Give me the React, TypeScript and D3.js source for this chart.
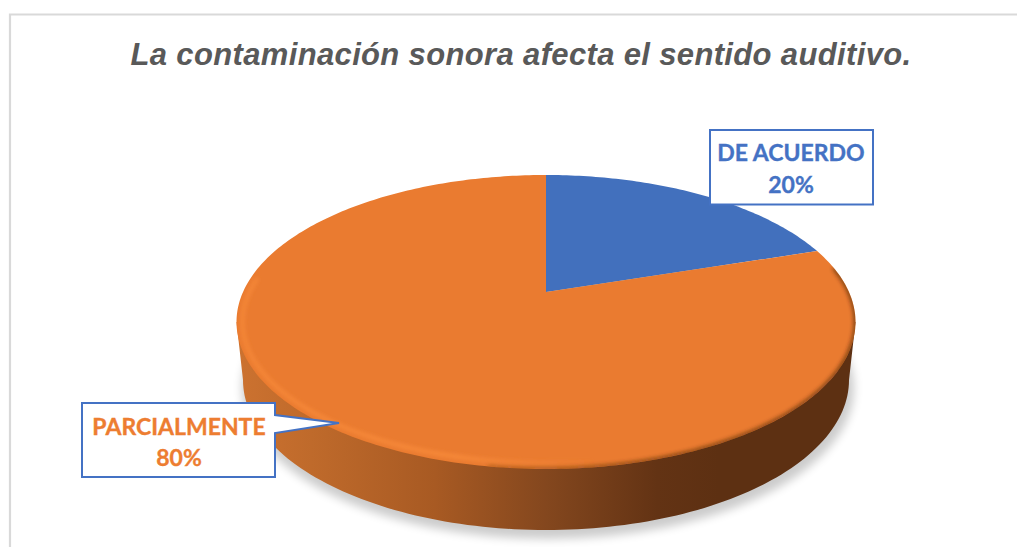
import React from "react";
import * as d3 from "d3";

const W = 1017;
const H = 547;
const categories = ["DE ACUERDO", "PARCIALMENTE"];
const values = [20, 80];
const colors = ["#4270bd", "#ea7b30"];
const labelColors = ["#4472c4", "#ed7d31"];
const title = "La contaminación sonora afecta el sentido auditivo.";

// top face of the disc, in screen space
const xTop = d3.scaleLinear().domain([-1, 1]).range([236.5, 855.5]);
const yTop = d3.scaleLinear().domain([-1, 1]).range([175, 469]);
// bottom rim of the disc (narrower because of perspective)
const xBottom = d3.scaleLinear().domain([-1, 1]).range([243, 849]);
const yBottom = d3.scaleLinear().domain([-1, 1]).range([230, 530]);

// perspective: the circle's centre lands above the centre of its ellipse
const k = -0.204;
const project = (a: number): [number, number] => {
  const sx = Math.sin(a);
  const sy = -Math.cos(a);
  const d = 1 + k * sy;
  return [xTop((sx * Math.sqrt(1 - k * k)) / d), yTop((sy + k) / d)];
};
const apex: [number, number] = [xTop(0), yTop(k)];

const pieGen = d3.pie<number>().sort(null);
const arcs = pieGen(values);
const line = d3.line();

const slicePath = (a0: number, a1: number) => {
  const n = Math.max(8, Math.ceil((a1 - a0) * 60));
  const rim = d3.range(n + 1).map((i) => project(a0 + ((a1 - a0) * i) / n));
  return line([apex, ...rim]) + "Z";
};

const ring = (
  xs: d3.ScaleLinear<number, number>,
  ys: d3.ScaleLinear<number, number>,
  t0: number,
  t1: number,
  inset = 0
) => {
  const n = 120;
  return d3.range(n + 1).map((i): [number, number] => {
    const t = t0 + ((t1 - t0) * i) / n;
    return [
      xs(Math.cos(t)) - Math.cos(t) * inset,
      ys(Math.sin(t)) - Math.sin(t) * inset,
    ];
  });
};

const topFull = line(ring(xTop, yTop, 0, Math.PI * 2)) + "Z";
const wallPts = [
  ...ring(xTop, yTop, 0, -Math.PI).slice(0, 1),
  ...ring(xBottom, yBottom, 0, Math.PI),
  ...ring(xTop, yTop, Math.PI, Math.PI).slice(0, 1),
];
const wallPath = line(wallPts) + "Z";
const highlight = line(ring(xTop, yTop, Math.PI * 1.1, Math.PI * 0.45, 6));
const darkEdge = line(ring(xTop, yTop, Math.PI * 0.56, -Math.PI * 0.12, 0));

export default function App() {
  return (
    <svg
      width={W}
      height={H}
      viewBox={`0 0 ${W} ${H}`}
      style={{ position: "absolute", left: 0, top: 0, display: "block", background: "#fff" }}
    >
      <defs>
        <linearGradient id="wall" gradientUnits="userSpaceOnUse" x1={237} x2={855} y1={0} y2={0}>
          <stop offset="0" stopColor="#cc7230" />
          <stop offset="0.12" stopColor="#bf6a2b" />
          <stop offset="0.32" stopColor="#a85a23" />
          <stop offset="0.5" stopColor="#84471e" />
          <stop offset="0.68" stopColor="#633314" />
          <stop offset="0.78" stopColor="#5d3012" />
          <stop offset="1" stopColor="#5d3012" />
        </linearGradient>
        <linearGradient id="hl" gradientUnits="userSpaceOnUse" x1={237} x2={600} y1={0} y2={0}>
          <stop offset="0" stopColor="#ff923f" stopOpacity="0.7" />
          <stop offset="0.6" stopColor="#ff923f" stopOpacity="0.9" />
          <stop offset="1" stopColor="#ff923f" stopOpacity="0" />
        </linearGradient>
        <linearGradient id="dk" gradientUnits="userSpaceOnUse" x1={440} x2={855} y1={0} y2={0}>
          <stop offset="0" stopColor="#7a4118" stopOpacity="0.4" />
          <stop offset="0.5" stopColor="#5d3012" stopOpacity="0.9" />
          <stop offset="1" stopColor="#4a250d" stopOpacity="0.9" />
        </linearGradient>
        <filter id="blur5" x="-10%" y="-10%" width="120%" height="120%">
          <feGaussianBlur stdDeviation="5" />
        </filter>
        <filter id="blur1" x="-10%" y="-10%" width="120%" height="120%">
          <feGaussianBlur stdDeviation="2" />
        </filter>
        <clipPath id="topClip">
          <path d={topFull} />
        </clipPath>
      </defs>

      <path d="M10 1100 V14.5 H1100" fill="none" stroke="#d9d9d9" strokeWidth={2.2} />

      <text
        x={521}
        y={65}
        textAnchor="middle"
        fontFamily="'Liberation Sans'"
        fontWeight={700}
        fontStyle="italic"
        fontSize={31}
        letterSpacing={0.35}
        fill="#595959"
      >
        {title}
      </text>

      {/* soft shadow */}
      <ellipse cx={548} cy={388} rx={306} ry={151} fill="#000" opacity={0.2} filter="url(#blur5)" />

      {/* side wall */}
      <path d={wallPath} fill="url(#wall)" />

      {/* top face */}
      {arcs.map((d, i) => (
        <path key={categories[i]} d={slicePath(d.startAngle, d.endAngle)} fill={colors[i]} />
      ))}

      {/* bevel */}
      <g clipPath="url(#topClip)">
        <path d={darkEdge ?? ""} fill="none" stroke="url(#dk)" strokeWidth={3} filter="url(#blur1)" />
        <path d={highlight ?? ""} fill="none" stroke="url(#hl)" strokeWidth={3} filter="url(#blur1)" />
      </g>

      {/* callouts */}
      <path
        d="M82 403 H275 V415 L339 423 L275 433 V477 H82 Z"
        fill="#fff"
        stroke="#4472c4"
        strokeWidth={2}
      />
      <rect x={710} y={130} width={163} height={74.5} fill="#fff" stroke="#4472c4" strokeWidth={2} />

      <g fontFamily="Lato" fontWeight={700} fontSize={23} textAnchor="middle" strokeWidth={0.35}>
        <text x={791} y={161} fill={labelColors[0]} stroke={labelColors[0]}>{categories[0]}</text>
        <text x={791} y={193} fill={labelColors[0]} stroke={labelColors[0]}>{`${values[0]}%`}</text>
        <text x={179} y={435} fill={labelColors[1]} stroke={labelColors[1]}>{categories[1]}</text>
        <text x={179} y={466} fill={labelColors[1]} stroke={labelColors[1]}>{`${values[1]}%`}</text>
      </g>
    </svg>
  );
}
